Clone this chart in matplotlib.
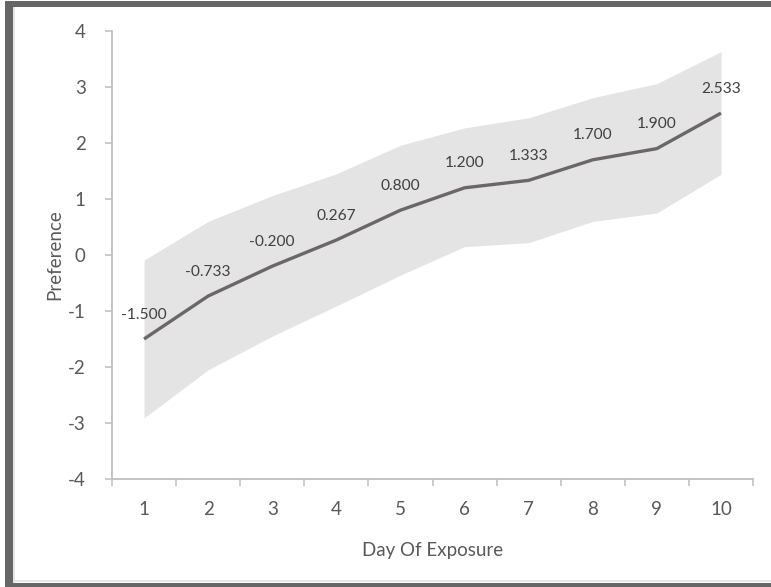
import matplotlib
matplotlib.use("Agg")
import matplotlib.pyplot as plt
from matplotlib.patches import Rectangle

plt.rcParams['font.family'] = ['Lato', 'DejaVu Sans']

days = [1, 2, 3, 4, 5, 6, 7, 8, 9, 10]
preference = [-1.500, -0.733, -0.200, 0.267, 0.800, 1.200, 1.333, 1.700, 1.900, 2.533]
upper = [-0.09, 0.60, 1.06, 1.45, 1.96, 2.27, 2.45, 2.81, 3.06, 3.63]
lower = [-2.91, -2.05, -1.45, -0.91, -0.36, 0.15, 0.22, 0.60, 0.75, 1.44]
yticks = [-4, -3, -2, -1, 0, 1, 2, 3, 4]

W, H = 771, 587
fig = plt.figure(figsize=(W / 100, H / 100), dpi=100)
fig.patch.set_facecolor('white')

# frame around the chart
def px_rect(x0, y0, x1, y1, color):
    fig.patches.append(Rectangle((x0 / W, 1 - y1 / H), (x1 - x0) / W, (y1 - y0) / H,
                                 transform=fig.transFigure, facecolor=color,
                                 edgecolor='none', zorder=0))

px_rect(13, 7, 15, 583, '#e6e6e6')
px_rect(13, 580, W, 582, '#e6e6e6')
px_rect(5, 1, W, 7, '#666666')
px_rect(5, 1, 13, 587, '#666666')
px_rect(5, 583, W, 587, '#666666')

ax = fig.add_axes([112 / W, 1 - 479 / H, (753 - 112) / W, (479 - 31) / H])
ax.set_facecolor('none')

ax.fill_between(days, lower, upper, color='#e4e4e4', linewidth=0, zorder=1)
ax.plot(days, preference, color='#6b6767', linewidth=2.4, solid_capstyle='butt', zorder=3)

for d, v in zip(days, preference):
    ax.annotate(f"{v:.3f}", (d, v), xytext=(0, 17.5), textcoords='offset points',
                ha='center', va='center', fontsize=11.2, color='#404040', zorder=4)

ax.set_xlim(0.5, 10.5)
ax.set_ylim(-4, 4)
ax.set_yticks(yticks)
ax.set_yticklabels([str(t) for t in yticks])
ax.set_xticks(days)
ax.set_xticklabels([str(d) for d in days])
ax.set_xticks([d + 0.5 for d in range(0, 11)], minor=True)

for s in ['top', 'right']:
    ax.spines[s].set_visible(False)
for s in ['left', 'bottom']:
    ax.spines[s].set_color('#bfbfbf')
    ax.spines[s].set_linewidth(1.3)

ax.tick_params(axis='x', which='major', length=0, pad=16, labelsize=13.5, labelcolor='#595959')
ax.tick_params(axis='x', which='minor', length=5, width=1.1, color='#bfbfbf', direction='out')
ax.tick_params(axis='y', length=5, width=1.1, color='#bfbfbf', pad=14, labelsize=13.5,
               labelcolor='#595959')

ax.set_xlabel('Day Of Exposure', fontsize=13.5, color='#595959', labelpad=17)
ax.set_ylabel('Preference', fontsize=13.5, color='#595959', labelpad=3)

fig.savefig('out.png', dpi=100, facecolor='white')
